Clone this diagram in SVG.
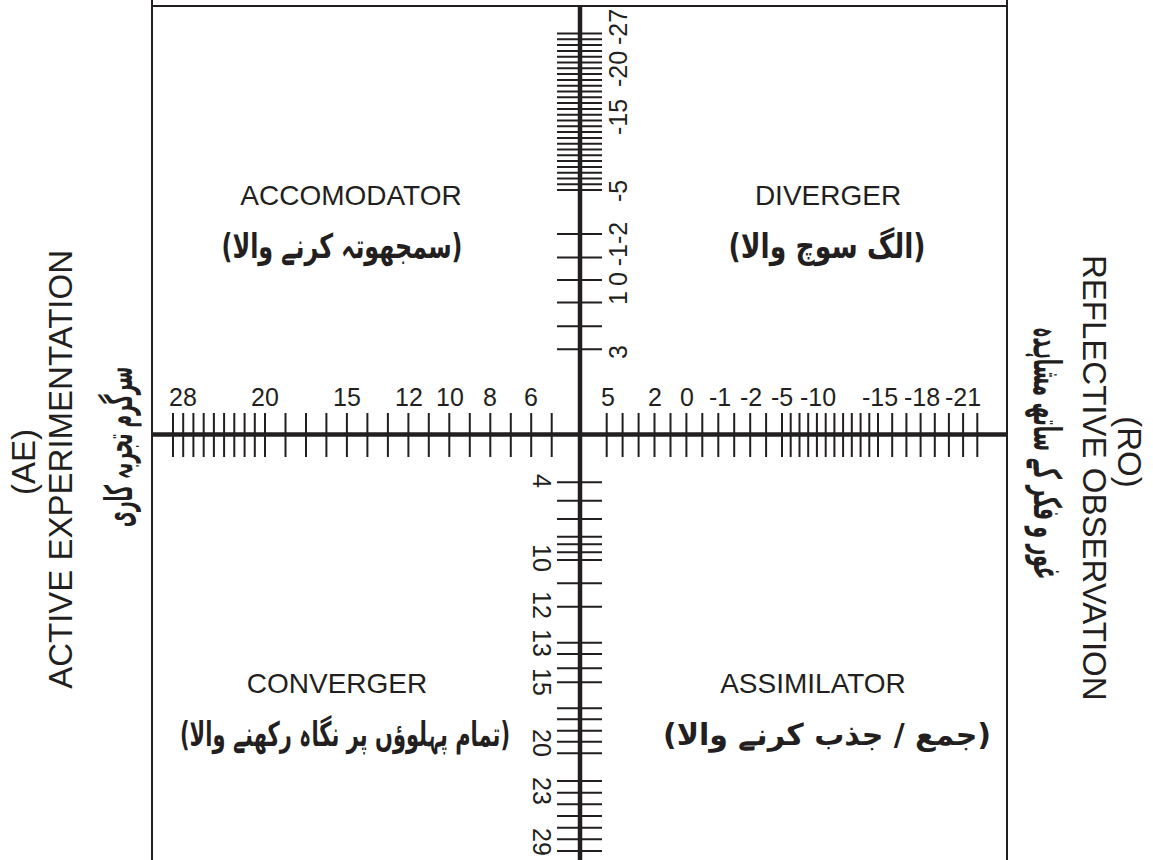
<svg xmlns="http://www.w3.org/2000/svg" width="1153" height="860" viewBox="0 0 1153 860">
<style>
.bg{fill:#ffffff}
.frame{stroke:#231f20;stroke-width:2;fill:none}
.axis{stroke:#231f20;stroke-width:4.5;fill:none}
.tick{stroke:#231f20;stroke-width:2;fill:none}
.en{font-family:"Liberation Sans",Arial,sans-serif;fill:#231f20}
.num{font-size:25px;text-anchor:middle}
.q{font-size:28px;text-anchor:middle}
.title{font-size:33px}
.ur{font-family:"DejaVu Sans",sans-serif;font-weight:bold;fill:#231f20;direction:rtl;unicode-bidi:bidi-override;text-anchor:middle}
</style>
<rect class="bg" x="0" y="0" width="1153" height="860"/>
<g id="frame">
<path class="frame" d="M152 0V860M1007 0V860M152 6H1007"/>
</g>
<g id="connectors">
<path class="axis" d="M580 6V860M152 434.5H1007"/>
<path class="tick" d="M173 413V457M183.2 413V457M193.4 413V457M203.7 413V457M213.9 413V457M224.1 413V457M234.3 413V457M244.6 413V457M254.8 413V457M265 413V457M285.5 413V457M306 413V457M326.4 413V457M346.9 413V457M367.4 413V457M387.9 413V457M408.4 413V457M428.8 413V457M449.3 413V457M469.8 413V457M490.3 413V457M510.8 413V457M531.2 413V457M551.7 413V457"/>
<path class="tick" d="M606.7 413V457M622.6 413V457M638.6 413V457M654.5 413V457M670.5 413V457M686.4 413V457M702.3 413V457M718.3 413V457M734.2 413V457M750.2 413V457M766.1 413V457M782 413V457M790.7 413V457M799.5 413V457M808.2 413V457M816.9 413V457M825.7 413V457M834.4 413V457M843.1 413V457M851.8 413V457M860.6 413V457M869.3 413V457M878 413V457M892.2 413V457M906.4 413V457M920.6 413V457M934.8 413V457M948.9 413V457M963.1 413V457M977.3 413V457"/>
<path class="tick" d="M557 33.5H602M557 39.3H602M557 45.1H602M557 50.9H602M557 56.7H602M557 62.5H602M557 68.3H602M557 74.1H602M557 79.9H602M557 85.7H602M557 91.5H602M557 97.3H602M557 103.1H602M557 108.9H602M557 114.7H602M557 120.5H602M557 126.3H602M557 132.1H602M557 137.9H602M557 143.7H602M557 149.5H602M557 155.3H602M557 161.1H602M557 166.9H602M557 172.7H602M557 178.5H602M557 184.3H602M557 190.1H602M557 234H602M557 257.5H602M557 280H602M557 302.5H602M557 326.3H602M557 349.3H602"/>
<path class="tick" d="M557 482.3H602M557 500.7H602M557 519H602M557 536.7H602M557 544.3H602M557 552.3H602M557 560H602M557 583.3H602M557 606.7H602M557 642.7H602M557 654H602M557 668.3H602M557 682.3H602M557 708.3H602M557 719.3H602M557 730.7H602M557 741.7H602M557 753.3H602M557 781H602M557 792.7H602M557 804.3H602M557 816H602M557 827.7H602M557 839.3H602M557 851H602"/>
</g>
<g id="axis-labels" class="en num">
<text x="183" y="406">28</text>
<text x="265" y="406">20</text>
<text x="347" y="406">15</text>
<text x="409" y="406">12</text>
<text x="450" y="406">10</text>
<text x="490" y="406">8</text>
<text x="531" y="406">6</text>
<text x="608" y="406">5</text>
<text x="655" y="406">2</text>
<text x="687" y="406">0</text>
<text x="720" y="406">-1</text>
<text x="751" y="406">-2</text>
<text x="782" y="406">-5</text>
<text x="818" y="406">-10</text>
<text x="880" y="406">-15</text>
<text x="922" y="406">-18</text>
<text x="963" y="406">-21</text>
<text transform="translate(627,27) rotate(-90)">-27</text>
<text transform="translate(627,69) rotate(-90)">-20</text>
<text transform="translate(627,117) rotate(-90)">-15</text>
<text transform="translate(627,191) rotate(-90)">-5</text>
<text transform="translate(627,244) rotate(-90)">-1-2</text>
<text transform="translate(627,279) rotate(-90)">0</text>
<text transform="translate(627,298) rotate(-90)">1</text>
<text transform="translate(627,352) rotate(-90)">3</text>
<text transform="translate(533,481) rotate(90)">4</text>
<text transform="translate(533,558) rotate(90)">10</text>
<text transform="translate(533,605) rotate(90)">12</text>
<text transform="translate(533,643) rotate(90)">13</text>
<text transform="translate(533,682) rotate(90)">15</text>
<text transform="translate(533,743) rotate(90)">20</text>
<text transform="translate(533,791) rotate(90)">23</text>
<text transform="translate(533,842) rotate(90)">29</text>
</g>
<g id="accomodator">
<text class="en q" x="351" y="205">ACCOMODATOR</text>
<text class="ur" x="342" y="258" font-size="34" textLength="241" lengthAdjust="spacingAndGlyphs">(سمجھوتہ کرنے والا)</text>
</g>
<g id="diverger">
<text class="en q" x="828" y="205">DIVERGER</text>
<text class="ur" x="827" y="258" font-size="34" textLength="197" lengthAdjust="spacingAndGlyphs">(الگ سوچ والا)</text>
</g>
<g id="converger">
<text class="en q" x="337" y="693">CONVERGER</text>
<text class="ur" x="345" y="746" font-size="34" textLength="330" lengthAdjust="spacingAndGlyphs">(تمام پہلوؤں پر نگاہ رکھنے والا)</text>
</g>
<g id="assimilator">
<text class="en q" x="813" y="693">ASSIMILATOR</text>
<text class="ur" x="827" y="745" font-size="30">(جمع / جذب کرنے والا)</text>
</g>
<g id="active-experimentation">
<text class="en title" text-anchor="middle" transform="translate(35,462) rotate(-90)">(AE)</text>
<text class="en title" text-anchor="end" transform="translate(72,250) rotate(-90)">ACTIVE EXPERIMENTATION</text>
<text class="ur" font-size="38" textLength="160" lengthAdjust="spacingAndGlyphs" transform="translate(132,447) rotate(-90)">سرگرم تجربہ کاری</text>
</g>
<g id="reflective-observation">
<text class="en title" text-anchor="middle" transform="translate(1118,452) rotate(90)">(RO)</text>
<text class="en title" text-anchor="start" transform="translate(1083,255) rotate(90)">REFLECTIVE OBSERVATION</text>
<text class="ur" font-size="38" textLength="253" lengthAdjust="spacingAndGlyphs" transform="translate(1034,453) rotate(90)">غور و فکر کے ساتھ مشاہدہ</text>
</g>
</svg>
